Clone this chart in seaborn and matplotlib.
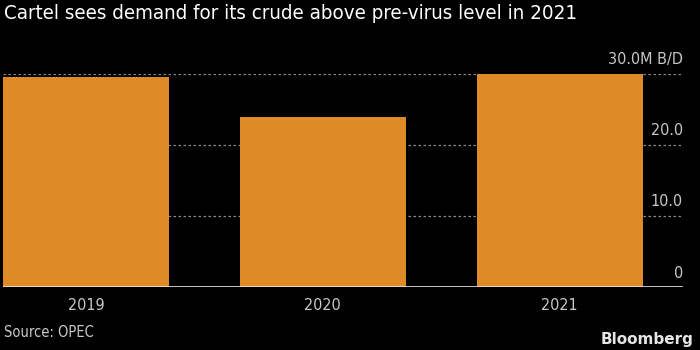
import matplotlib
matplotlib.use("Agg")
import matplotlib.pyplot as plt
import matplotlib.transforms as mtransforms
import seaborn as sns
import pandas as pd

# Data
years = ["2019", "2020", "2021"]
demand = [29.5, 23.9, 29.9]
tick_values = [0, 10, 20, 30]
tick_labels = ["0", "10.0", "20.0", "30.0M B/D"]
title = "Cartel sees demand for its crude above pre-virus level in 2021"
source = "Source: OPEC"

BG = "#000000"
BAR = "#de8a26"
GREY = "#c8c8c8"

sns.set_theme(style="dark")
plt.rcParams["font.family"] = ["DejaVu Sans"]
plt.rcParams["font.stretch"] = "condensed"

fig = plt.figure(figsize=(7, 3.5), dpi=100, facecolor=BG)
ax = fig.add_axes([3 / 700, (350 - 287.3) / 350, 680 / 700, (287.3 - 73.5) / 350])
ax.set_facecolor(BG)

df = pd.DataFrame({"year": years, "demand": demand})
sns.barplot(data=df, x="year", y="demand", color=BAR, saturation=1, width=0.7,
            linewidth=0, ax=ax, zorder=2)

ax.set_ylim(0, 30)
ax.set_xlim(-0.35, 2.52)
for s in ax.spines.values():
    s.set_visible(False)
ax.axhline(0, color="#e6e6e6", lw=1.2, zorder=3)
for v in tick_values[1:]:
    ax.axhline(v, color="#8a8a8a", lw=0.9, ls=(0, (2, 2)), zorder=1)

ax.set_yticks([])
ax.set_xlabel("")
ax.set_ylabel("")
ax.tick_params(axis="x", length=0, pad=8, labelsize=11.5, labelcolor=GREY)

trans = mtransforms.blended_transform_factory(ax.transAxes, ax.transData)
for v, lab in zip(tick_values, tick_labels):
    ax.annotate(lab, xy=(1, v), xycoords=trans, xytext=(0, 7), textcoords="offset points",
                ha="right", va="baseline", color=GREY, fontsize=11.5, annotation_clip=False)

fig.text(4 / 700, 1 - 19 / 350, title, color="white", fontsize=14.7, ha="left", va="baseline")
fig.text(4 / 700, 1 - 337 / 350, source, color=GREY, fontsize=10.5, ha="left", va="baseline")
fig.text(693 / 700, 1 - 344 / 350, "Bloomberg", color="#e6e6e6", fontsize=11,
         fontweight="bold", ha="right", va="baseline", fontstretch="normal")

fig.savefig("out.png", dpi=100, facecolor=BG)
